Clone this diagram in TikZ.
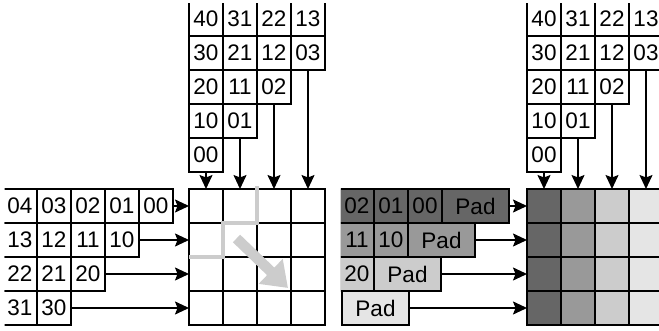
\documentclass[tikz,border=0pt]{standalone}
\usepackage{fontspec}
\setmainfont{Liberation Sans}
\usetikzlibrary{
    arrows.meta,
    positioning,
}
\definecolor{shadeA}{gray}{0.40}
\definecolor{shadeB}{gray}{0.60}
\definecolor{shadeC}{gray}{0.80}
\definecolor{shadeD}{gray}{0.90}

\begin{document}
\begin{tikzpicture}[
        x=1pt, y=-1pt,
        cell/.style={rectangle, draw=black, line width=1.7pt, minimum size=34pt, inner sep=0pt, outer sep=0pt, font=\fontsize{22.5}{24}\selectfont},
        padcell/.style={cell, minimum width=67pt},
        feed/.style={-{Stealth[length=14pt, width=13pt, inset=2.5pt]}, line width=1.7pt},
        stair/.style={draw=shadeC, line width=4.5pt},
        sweep/.style={-{Triangle[length=24pt, width=33pt]}, draw=shadeC, fill=shadeC, line width=10.5pt},
        ]
        \useasboundingbox (0,0) rectangle (659,331);
        \clip (0,0) rectangle (659,331);

        % left: rows fed from the side
        \begin{scope}
            \clip (4.5,0) rectangle (189,331);
            \node[cell] (ra04) at (20,206)           {04};
            \node[cell] (ra03) [right=0pt of ra04] {03};
            \node[cell] (ra02) [right=0pt of ra03] {02};
            \node[cell] (ra01) [right=0pt of ra02] {01};
            \node[cell] (ra00) [right=0pt of ra01] {00};
            \node[cell] (ra13) at (20,240)           {13};
            \node[cell] (ra12) [right=0pt of ra13] {12};
            \node[cell] (ra11) [right=0pt of ra12] {11};
            \node[cell] (ra10) [right=0pt of ra11] {10};
            \node[cell] (ra22) at (20,274)           {22};
            \node[cell] (ra21) [right=0pt of ra22] {21};
            \node[cell] (ra20) [right=0pt of ra21] {20};
            \node[cell] (ra31) at (20,308)           {31};
            \node[cell] (ra30) [right=0pt of ra31] {30};
        \end{scope}

        % left: columns fed from the top
        \begin{scope}
            \clip (0,3.5) rectangle (659,189);
            \node[cell] (ca40) at (206,19)           {40};
            \node[cell] (ca30) [below=0pt of ca40] {30};
            \node[cell] (ca20) [below=0pt of ca30] {20};
            \node[cell] (ca10) [below=0pt of ca20] {10};
            \node[cell] (ca00) [below=0pt of ca10] {00};
            \node[cell] (ca31) at (240,19)           {31};
            \node[cell] (ca21) [below=0pt of ca31] {21};
            \node[cell] (ca11) [below=0pt of ca21] {11};
            \node[cell] (ca01) [below=0pt of ca11] {01};
            \node[cell] (ca22) at (274,19)           {22};
            \node[cell] (ca12) [below=0pt of ca22] {12};
            \node[cell] (ca02) [below=0pt of ca12] {02};
            \node[cell] (ca13) at (308,19)           {13};
            \node[cell] (ca03) [below=0pt of ca13] {03};
        \end{scope}

        % left: array
        \foreach \r in {1,...,4}
            \foreach \c in {1,...,4}
                \node[cell] (ga\r\c) at ({172+34*\c},{172+34*\r}) {};

        \draw[feed] (ra00) -- (ga11);
        \draw[feed] (ra10) -- (ga21);
        \draw[feed] (ra20) -- (ga31);
        \draw[feed] (ra30) -- (ga41);
        \draw[feed] (ca00) -- (ga11);
        \draw[feed] (ca01) -- (ga12);
        \draw[feed] (ca02) -- (ga13);
        \draw[feed] (ca03) -- (ga14);

        \draw[stair] (ga31.north west) -- (ga31.north east) -- (ga22.north west)
            -- (ga22.north east) -- ([yshift=3pt]ga13.north west);
        \coordinate (sweepA) at (236.5,238.5);
        \coordinate (sweepB) at (288,288);
        \draw[sweep] (sweepA) -- (sweepB);

        % right: padded rows
        \begin{scope}
            \clip (340.8,0) rectangle (659,331);
            \node[cell, fill=shadeA] (rb02) at (357,206)            {02};
            \node[cell, fill=shadeA] (rb01) [right=0pt of rb02]     {01};
            \node[cell, fill=shadeA] (rb00) [right=0pt of rb01]     {00};
            \node[padcell, fill=shadeA] (rbpad1) [right=0pt of rb00] {Pad};
            \node[cell, fill=shadeB] (rb11) at (357,240)            {11};
            \node[cell, fill=shadeB] (rb10) [right=0pt of rb11]     {10};
            \node[padcell, fill=shadeB] (rbpad2) [right=0pt of rb10] {Pad};
            \node[cell, fill=shadeC] (rb20) at (357,274)            {20};
            \node[padcell, fill=shadeC] (rbpad3) [right=0pt of rb20] {Pad};
        \end{scope}
        \node[padcell, fill=shadeD] (rbpad4) at (375.5,308) {Pad};

        % right: columns fed from the top
        \begin{scope}
            \clip (0,3.5) rectangle (659,189);
            \node[cell] (cb40) at (544,19)           {40};
            \node[cell] (cb30) [below=0pt of cb40] {30};
            \node[cell] (cb20) [below=0pt of cb30] {20};
            \node[cell] (cb10) [below=0pt of cb20] {10};
            \node[cell] (cb00) [below=0pt of cb10] {00};
            \node[cell] (cb31) at (578,19)           {31};
            \node[cell] (cb21) [below=0pt of cb31] {21};
            \node[cell] (cb11) [below=0pt of cb21] {11};
            \node[cell] (cb01) [below=0pt of cb11] {01};
            \node[cell] (cb22) at (612,19)           {22};
            \node[cell] (cb12) [below=0pt of cb22] {12};
            \node[cell] (cb02) [below=0pt of cb12] {02};
            \node[cell] (cb13) at (646,19)           {13};
            \node[cell] (cb03) [below=0pt of cb13] {03};
        \end{scope}

        % right: shaded array
        \foreach \r in {1,...,4}
            \foreach \c/\s in {1/shadeA,2/shadeB,3/shadeC,4/shadeD}
                \node[cell, fill=\s] (gb\r\c) at ({510+34*\c},{172+34*\r}) {};

        \draw[feed] (rbpad1) -- (gb11);
        \draw[feed] (rbpad2) -- (gb21);
        \draw[feed] (rbpad3) -- (gb31);
        \draw[feed] (rbpad4) -- (gb41);
        \draw[feed] (cb00) -- (gb11);
        \draw[feed] (cb01) -- (gb12);
        \draw[feed] (cb02) -- (gb13);
        \draw[feed] (cb03) -- (gb14);
\end{tikzpicture}
\end{document}
